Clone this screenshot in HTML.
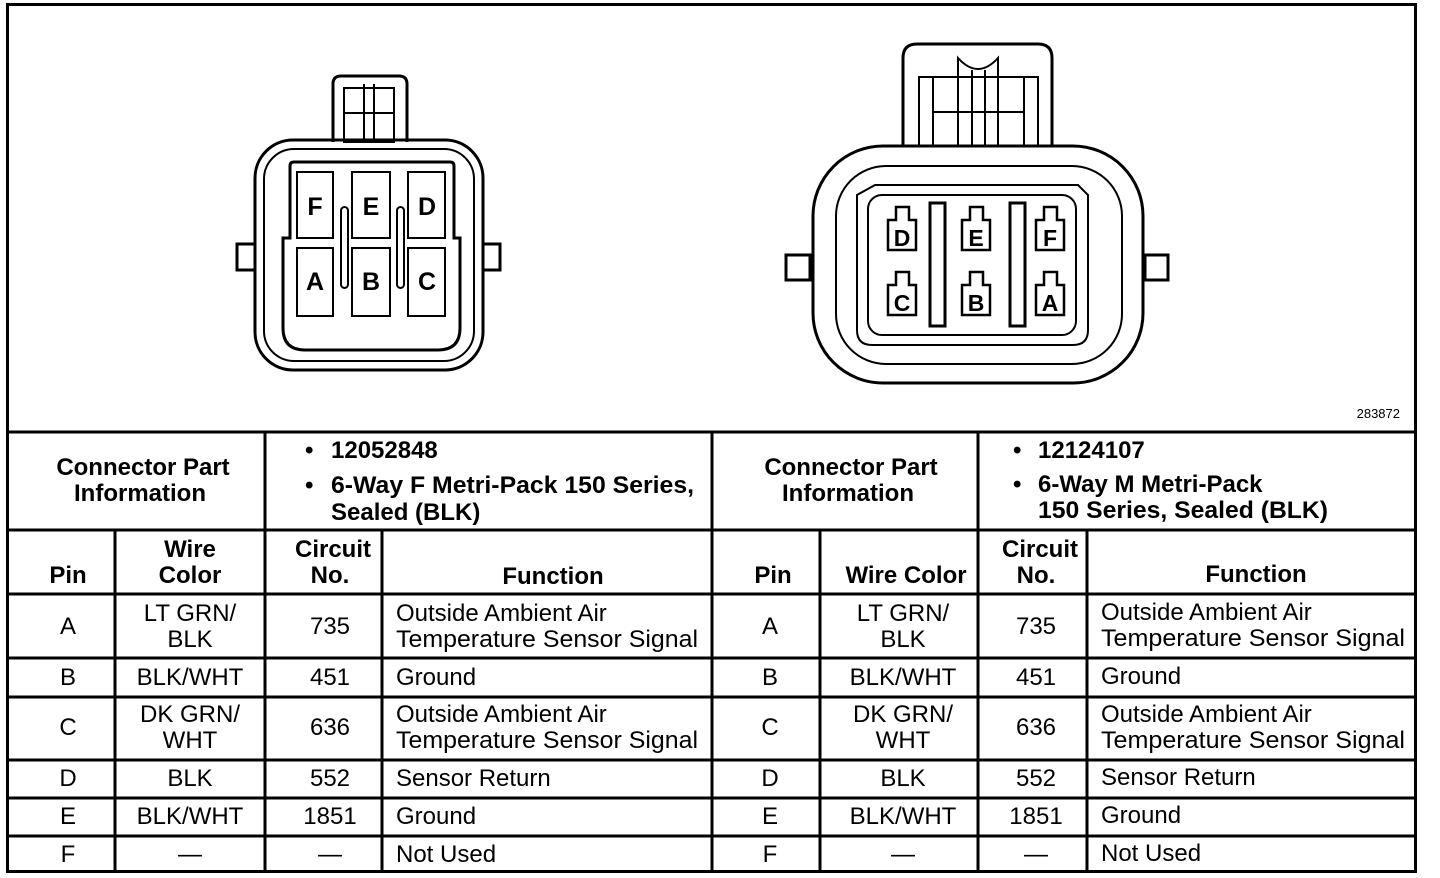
<!DOCTYPE html>
<html><head><meta charset="utf-8"><style>
html,body{margin:0;padding:0;background:#fff;}
svg{display:block;}
text{font-family:"Liberation Sans",Arial,sans-serif;fill:#000;}
.b{font-weight:bold;font-size:24px;}
.n{font-size:24px;}
.p{font-weight:bold;font-size:25px;}
</style></head><body>
<svg width="1440" height="878" viewBox="0 0 1440 878" xmlns="http://www.w3.org/2000/svg">
<g fill="none" stroke="#000" stroke-width="3">
<rect x="7.5" y="4.5" width="1408" height="867"/>
<line x1="7" y1="432" x2="1416" y2="432"/>
<line x1="7" y1="530" x2="1416" y2="530"/>
<line x1="7" y1="594" x2="1416" y2="594"/>
<line x1="7" y1="658" x2="1416" y2="658"/>
<line x1="7" y1="697" x2="1416" y2="697"/>
<line x1="7" y1="760" x2="1416" y2="760"/>
<line x1="7" y1="798" x2="1416" y2="798"/>
<line x1="7" y1="836" x2="1416" y2="836"/>
<line x1="265" y1="432" x2="265" y2="872"/>
<line x1="712" y1="432" x2="712" y2="872"/>
<line x1="978" y1="432" x2="978" y2="872"/>
<line x1="115" y1="530" x2="115" y2="872"/>
<line x1="382" y1="530" x2="382" y2="872"/>
<line x1="820" y1="530" x2="820" y2="872"/>
<line x1="1087" y1="530" x2="1087" y2="872"/>

<path d="M333 142 V84 Q333 76 341 76 H399 Q407 76 407 84 V142"/>
<rect x="344" y="88" width="50" height="54" stroke-width="2"/>
<line x1="344" y1="113" x2="394" y2="113" stroke-width="2"/>
<line x1="364" y1="84" x2="364" y2="142" stroke-width="2"/>
<line x1="374" y1="84" x2="374" y2="142" stroke-width="2"/>
<rect x="255" y="140" width="228" height="230" rx="38"/>
<rect x="264" y="149" width="210" height="212" rx="30" stroke-width="2"/>
<path d="M290 238 V166 Q290 162 294 162 H450 Q454 162 454 166 V238 H460 V328 Q460 350 438 350 H305 Q283 350 283 328 V238 Z"/>
<rect x="237" y="244" width="18" height="26"/>
<rect x="483" y="244" width="17" height="26"/>
<rect x="297" y="172" width="36" height="66" stroke-width="2"/>
<rect x="352" y="172" width="38" height="66" stroke-width="2"/>
<rect x="408" y="172" width="37" height="66" stroke-width="2"/>
<rect x="297" y="248" width="36" height="68" stroke-width="2"/>
<rect x="352" y="248" width="38" height="68" stroke-width="2"/>
<rect x="408" y="248" width="37" height="68" stroke-width="2"/>
<rect x="341" y="207" width="7" height="81" rx="3.5" stroke-width="2"/>
<rect x="397" y="207" width="7" height="81" rx="3.5" stroke-width="2"/>

<path d="M903 146 V58 Q903 44 917 44 H1038 Q1052 44 1052 58 V146"/>
<rect x="919" y="77" width="119" height="69" stroke-width="2"/>
<line x1="933" y1="77" x2="933" y2="146" stroke-width="2"/>
<line x1="1024" y1="77" x2="1024" y2="146" stroke-width="2"/>
<line x1="933" y1="112" x2="1024" y2="112" stroke-width="2"/>
<path d="M958 146 V58 Q978 80 998 58 V146" stroke-width="2"/>
<line x1="972" y1="70" x2="972" y2="146" stroke-width="2"/>
<line x1="985" y1="70" x2="985" y2="146" stroke-width="2"/>
<rect x="813" y="146" width="330" height="237" rx="70"/>
<rect x="836" y="166" width="286" height="198" rx="50" stroke-width="2"/>
<path d="M875 185 H1078 L1088 195 V330 Q1088 345 1073 345 H872 Q857 345 857 330 V195 Z" stroke-width="2"/>
<rect x="868" y="195" width="208" height="140" rx="14" stroke-width="2"/>
<rect x="786" y="255" width="24" height="25"/>
<rect x="1145" y="255" width="23" height="25"/>
<rect x="930" y="203" width="15" height="123"/>
<rect x="1010" y="203" width="15" height="123"/>
</g>
<g fill="#fff" stroke="#000" stroke-width="2.5">
<path d="M896 207 H909 V220 H916 V250 H888 V220 H896 Z"/>
<path d="M970 207 H983 V220 H990 V250 H962 V220 H970 Z"/>
<path d="M1044 207 H1057 V220 H1064 V250 H1036 V220 H1044 Z"/>
<path d="M896 272 H909 V285 H916 V315 H888 V285 H896 Z"/>
<path d="M970 272 H983 V285 H990 V315 H962 V285 H970 Z"/>
<path d="M1044 272 H1057 V285 H1064 V315 H1036 V285 H1044 Z"/>
</g>
<g class="p" text-anchor="middle">
<text x="315" y="215">F</text><text x="371" y="215">E</text><text x="427" y="215">D</text>
<text x="315" y="290">A</text><text x="371" y="290">B</text><text x="427" y="290">C</text>
</g>
<g text-anchor="middle" style="font-weight:bold;font-size:23px">
<text x="902" y="246">D</text><text x="976" y="246">E</text><text x="1050" y="246">F</text>
<text x="902" y="311">C</text><text x="976" y="311">B</text><text x="1050" y="311">A</text>
</g>
<text x="1400" y="418" text-anchor="end" style="font-size:13px">283872</text>

<g class="b" text-anchor="middle">
<text x="143" y="475">Connector Part</text><text x="140" y="501">Information</text>
<text x="851" y="475">Connector Part</text><text x="848" y="501">Information</text>
<text x="68" y="583">Pin</text>
<text x="190" y="557">Wire</text><text x="190" y="583">Color</text>
<text x="333" y="557">Circuit</text><text x="330" y="583">No.</text>
<text x="553" y="584">Function</text>
<text x="773" y="583">Pin</text>
<text x="906" y="583">Wire Color</text>
<text x="1040" y="557">Circuit</text><text x="1036" y="583">No.</text>
<text x="1256" y="582">Function</text>
</g>
<g class="b">
<text x="305" y="458">•</text><text x="331" y="458">12052848</text>
<text x="305" y="493">•</text><text x="331" y="493" textLength="363" lengthAdjust="spacingAndGlyphs">6-Way F Metri-Pack 150 Series,</text>
<text x="331" y="520">Sealed (BLK)</text>
<text x="1013" y="458">•</text><text x="1038" y="458">12124107</text>
<text x="1013" y="492">•</text><text x="1038" y="492">6-Way M Metri-Pack</text>
<text x="1038" y="518" textLength="290" lengthAdjust="spacingAndGlyphs">150 Series, Sealed (BLK)</text>
</g>

<g class="n" text-anchor="middle">
<text x="68" y="634">A</text><text x="190" y="621">LT GRN/</text><text x="190" y="647">BLK</text><text x="330" y="634">735</text>
<text x="68" y="685">B</text><text x="190" y="685">BLK/WHT</text><text x="330" y="685">451</text>
<text x="68" y="735">C</text><text x="190" y="722">DK GRN/</text><text x="190" y="748">WHT</text><text x="330" y="735">636</text>
<text x="68" y="786">D</text><text x="190" y="786">BLK</text><text x="330" y="786">552</text>
<text x="68" y="824">E</text><text x="190" y="824">BLK/WHT</text><text x="330" y="824">1851</text>
<text x="68" y="862">F</text><text x="190" y="862">—</text><text x="330" y="862">—</text>
<text x="770" y="634">A</text><text x="903" y="621">LT GRN/</text><text x="903" y="647">BLK</text><text x="1036" y="634">735</text>
<text x="770" y="685">B</text><text x="903" y="685">BLK/WHT</text><text x="1036" y="685">451</text>
<text x="770" y="735">C</text><text x="903" y="722">DK GRN/</text><text x="903" y="748">WHT</text><text x="1036" y="735">636</text>
<text x="770" y="786">D</text><text x="903" y="786">BLK</text><text x="1036" y="786">552</text>
<text x="770" y="824">E</text><text x="903" y="824">BLK/WHT</text><text x="1036" y="824">1851</text>
<text x="770" y="862">F</text><text x="903" y="862">—</text><text x="1036" y="862">—</text>
</g>
<g class="n">
<text x="396" y="621">Outside Ambient Air</text><text x="396" y="647" textLength="302" lengthAdjust="spacingAndGlyphs">Temperature Sensor Signal</text>
<text x="396" y="685">Ground</text>
<text x="396" y="722">Outside Ambient Air</text><text x="396" y="748" textLength="302" lengthAdjust="spacingAndGlyphs">Temperature Sensor Signal</text>
<text x="396" y="786">Sensor Return</text>
<text x="396" y="824">Ground</text>
<text x="396" y="862">Not Used</text>
<text x="1101" y="620">Outside Ambient Air</text><text x="1101" y="646" textLength="304" lengthAdjust="spacingAndGlyphs">Temperature Sensor Signal</text>
<text x="1101" y="684">Ground</text>
<text x="1101" y="722">Outside Ambient Air</text><text x="1101" y="748" textLength="304" lengthAdjust="spacingAndGlyphs">Temperature Sensor Signal</text>
<text x="1101" y="785">Sensor Return</text>
<text x="1101" y="823">Ground</text>
<text x="1101" y="861">Not Used</text>
</g>
</svg>
</body></html>
